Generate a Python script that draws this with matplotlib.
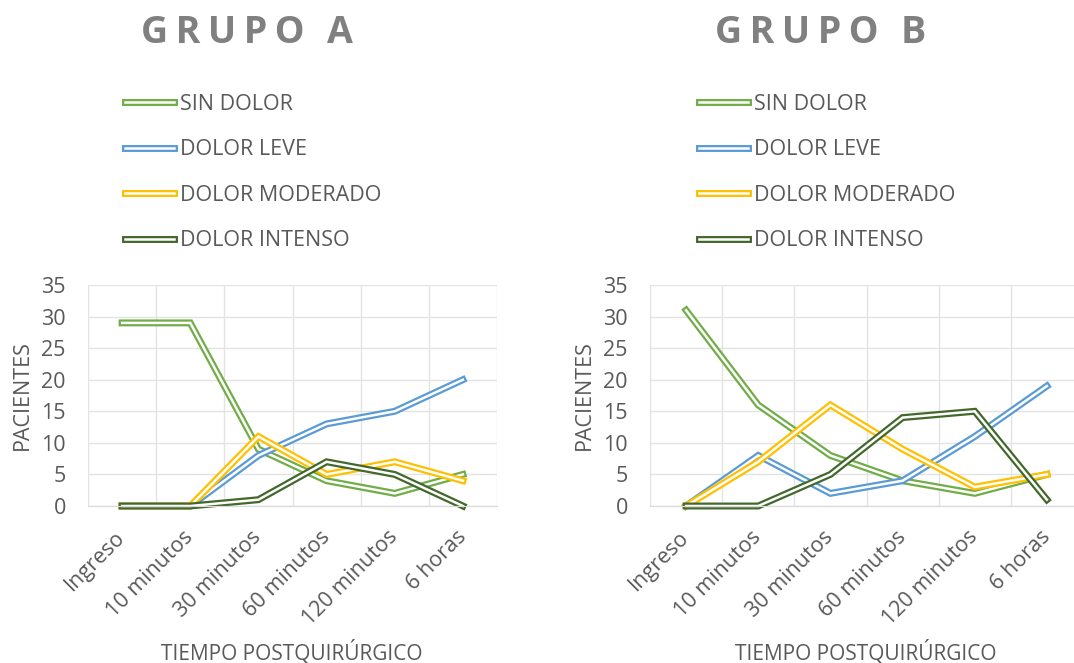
import matplotlib
matplotlib.use("Agg")
import matplotlib.pyplot as plt
import matplotlib.patheffects as pe
import numpy as np

plt.rcParams['font.family'] = ['Open Sans', 'DejaVu Sans']

categories = ["Ingreso", "10 minutos", "30 minutos", "60 minutos", "120 minutos", "6 horas"]
series_names = ["SIN DOLOR", "DOLOR LEVE", "DOLOR MODERADO", "DOLOR INTENSO"]

grupo_a_sin_dolor = [29, 29, 9, 4, 2, 5]
grupo_a_leve = [0, 0, 8, 13, 15, 20]
grupo_a_moderado = [0, 0, 11, 5, 7, 4]
grupo_a_intenso = [0, 0, 1, 7, 5, 0]

grupo_b_sin_dolor = [31, 16, 8, 4, 2, 5]
grupo_b_leve = [0, 8, 2, 4, 11, 19]
grupo_b_moderado = [0, 7, 16, 9, 3, 5]
grupo_b_intenso = [0, 0, 5, 14, 15, 1]

yticks = [0, 5, 10, 15, 20, 25, 30, 35]

colors = ["#70ad47", "#5b9bd5", "#ffc000", "#43682b"]
TXT = "#595959"
GRID = "#e3e3e3"
FS = 15.5

W, H = 1074, 663
fig = plt.figure(figsize=(W / 100, H / 100), dpi=100)
fig.patch.set_facecolor("white")


def fx(px):
    return px / W


def fy(py):
    return 1 - py / H


def spaced(s):
    return "\u2009".join(s.replace(" ", "\u2009"))


panels = [
    dict(title="GRUPO A", data=[grupo_a_sin_dolor, grupo_a_leve, grupo_a_moderado, grupo_a_intenso],
         ax=(88, 497), title_x=247, leg_x=124, ylab_x=22, xlab_x=292),
    dict(title="GRUPO B", data=[grupo_b_sin_dolor, grupo_b_leve, grupo_b_moderado, grupo_b_intenso],
         ax=(650, 1083), title_x=821, leg_x=698, ylab_x=584, xlab_x=866),
]

for p in panels:
    x0, x1 = p["ax"]
    ax = fig.add_axes([fx(x0), fy(506), fx(x1 - x0), fy(285) - fy(506)])
    ax.set_xlim(-0.5, len(categories) - 0.5)
    ax.set_ylim(0, 35)
    ax.set_yticks(yticks)
    ax.set_yticklabels([str(t) for t in yticks], fontsize=FS, color=TXT)
    x = np.arange(len(categories))
    ax.set_xticks(x)
    ax.set_xticklabels(categories, rotation=45, ha="right", va="center",
                       rotation_mode="anchor", fontsize=FS, color=TXT)
    ax.set_xticks(np.arange(len(categories) + 1) - 0.5, minor=True)
    ax.tick_params(axis="both", which="both", length=0)
    ax.tick_params(axis="x", which="major", pad=20)
    ax.tick_params(axis="y", pad=16)
    ax.grid(True, axis="y", color=GRID, lw=1)
    ax.grid(True, axis="x", which="minor", color=GRID, lw=1)
    ax.set_axisbelow(True)
    for s in ["top", "right", "left"]:
        ax.spines[s].set_visible(False)
    ax.spines["bottom"].set_color("#d9d9d9")
    handles = []
    for vals, c, name in zip(p["data"], colors, series_names):
        ln, = ax.plot(x, vals, color="white", lw=1.8, label=name, clip_on=False,
                      solid_joinstyle="miter",
                      path_effects=[pe.Stroke(linewidth=5.0, foreground=c), pe.Normal()])
        handles.append(ln)
    fig.text(fx(p["title_x"]), fy(33), spaced(p["title"]), ha="center", va="center",
             fontsize=27, fontweight="bold", color="#808080")
    leg = fig.legend(handles=handles, loc="upper left",
                     bbox_to_anchor=(fx(p["leg_x"] - 8), fy(85)),
                     frameon=False, fontsize=FS, handlelength=2.3, handletextpad=0.25,
                     labelspacing=1.14, borderaxespad=0)
    for t in leg.get_texts():
        t.set_color(TXT)
    fig.text(fx(p["ylab_x"]), fy(395), "PACIENTES", rotation=90, ha="center", va="center",
             fontsize=FS, color=TXT)
    fig.text(fx(p["xlab_x"]), fy(652), "TIEMPO POSTQUIRÚRGICO", ha="center", va="center",
             fontsize=15, color=TXT)

fig.savefig("out.png", dpi=100)
